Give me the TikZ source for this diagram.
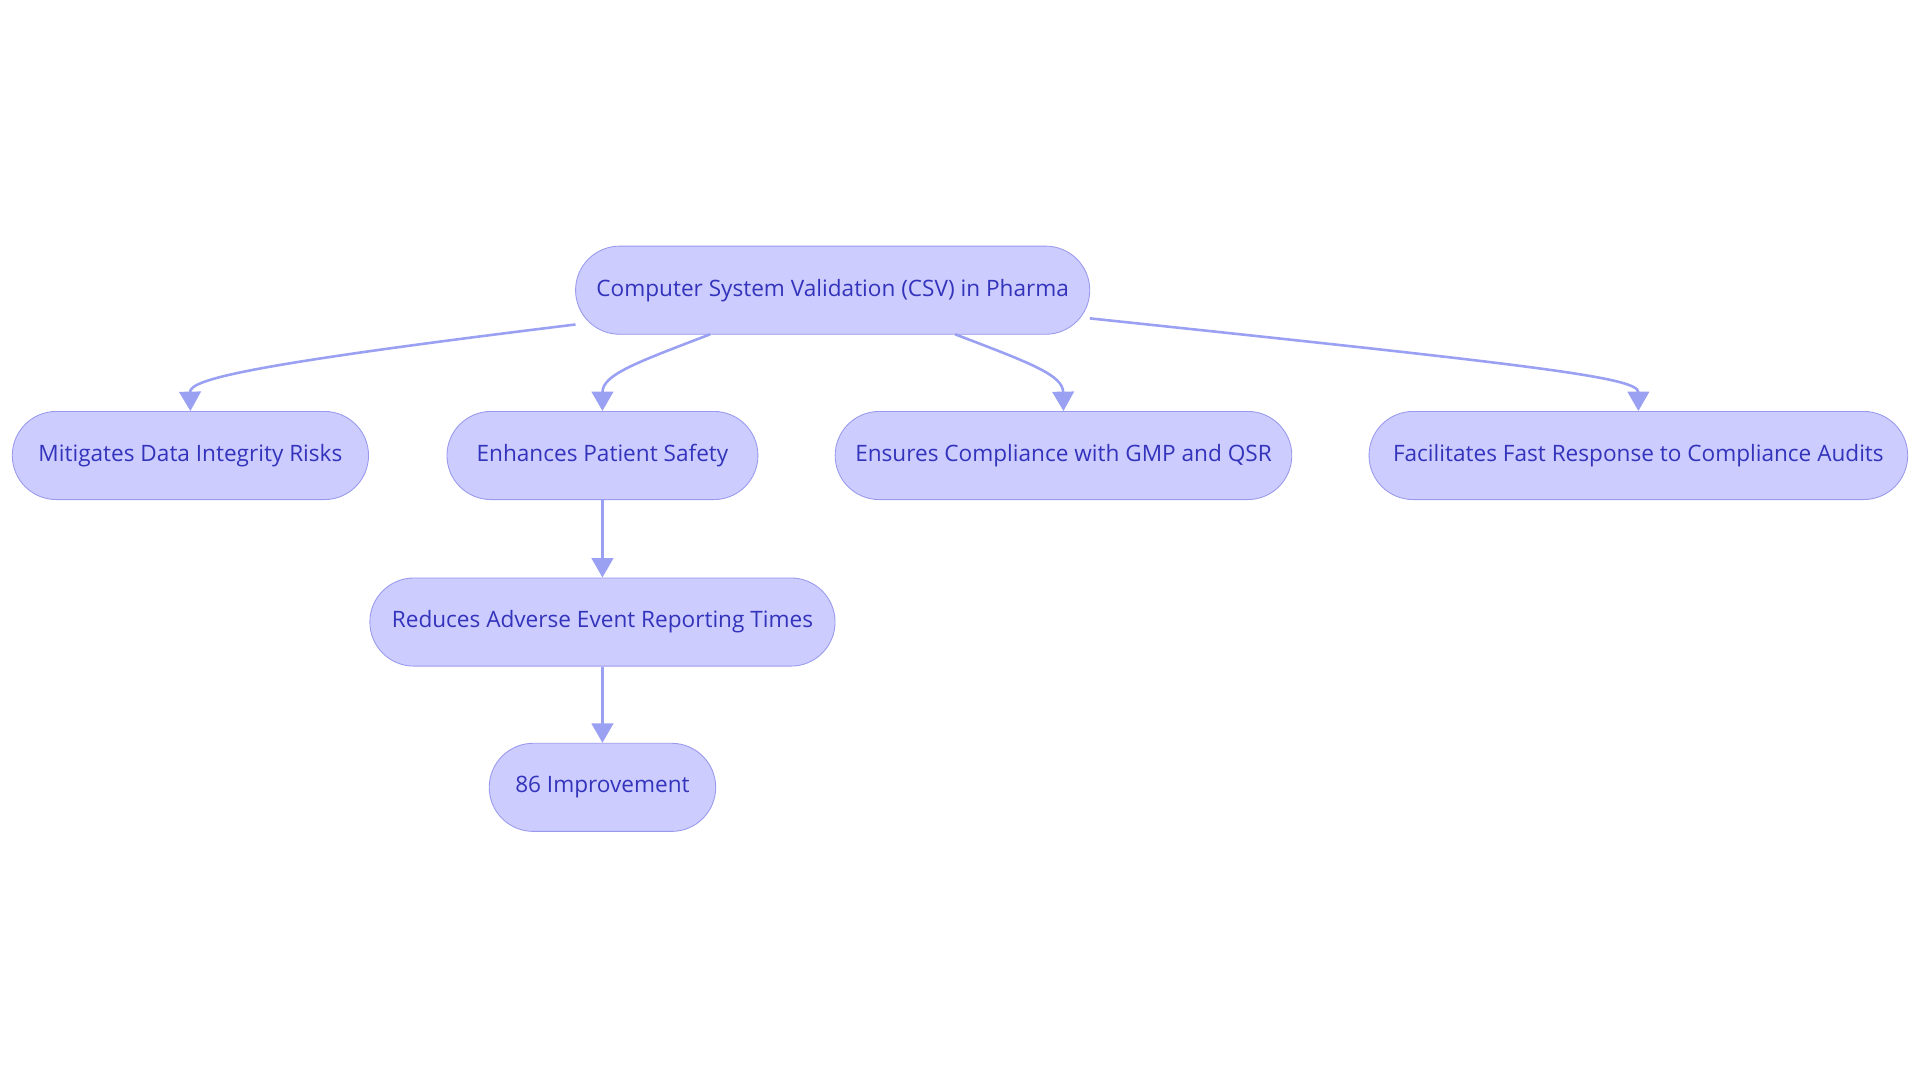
\documentclass[tikz,border=0pt]{standalone}
\usepackage{fontspec}
\setmainfont{Open Sans}
\usetikzlibrary{arrows.meta}
\definecolor{boxfill}{HTML}{CCCCFF}
\definecolor{boxline}{HTML}{9999EE}
\definecolor{boxtext}{HTML}{3333BB}
\definecolor{linkcol}{HTML}{9AA0F2}

\begin{document}
\begin{tikzpicture}[
    x=0.02cm, y=-0.02cm,
    box/.style = {rectangle, rounded corners=0.72cm, draw=boxline, fill=boxfill, text=boxtext,
                  minimum height=1.44cm, inner sep=0pt,
                  font=\fontsize{10.5}{12}\selectfont},
    link/.style = {draw=linkcol, line width=1.2pt, -{Triangle[length=9pt,width=10pt]}}
]
\useasboundingbox (0,0) rectangle (1568,884);

\node[box, minimum width=8.4cm] (CSV) at (680,237) {Computer System Validation (CSV) in Pharma};
\node[box, minimum width=5.82cm] (Mit) at (155.5,372) {Mitigates Data Integrity Risks};
\node[box, minimum width=5.08cm] (Enh) at (492,372) {Enhances Patient Safety};
\node[box, minimum width=7.46cm] (Ens) at (868.5,372) {Ensures Compliance with GMP and QSR};
\node[box, minimum width=8.8cm] (Fac) at (1338,372) {Facilitates Fast Response to Compliance Audits};
\node[box, minimum width=7.6cm] (Red) at (492,508) {Reduces Adverse Event Reporting Times};
\node[box, minimum width=3.7cm] (Imp) at (492,643) {86 Improvement};

\coordinate (c1) at (470,265);
\coordinate (c2) at (580,273);
\coordinate (c3) at (780,273);
\coordinate (c4) at (890,260);

\draw[link] (c1) .. controls (200,298) and (155,310) .. (Mit.north);
\draw[link] (c2) .. controls (520,296) and (492,306) .. (Enh.north);
\draw[link] (c3) .. controls (840,296) and (868,306) .. (Ens.north);
\draw[link] (c4) .. controls (1250,298) and (1338,308) .. (Fac.north);
\draw[link] (Enh) -- (Red);
\draw[link] (Red) -- (Imp);

\end{tikzpicture}
\end{document}
